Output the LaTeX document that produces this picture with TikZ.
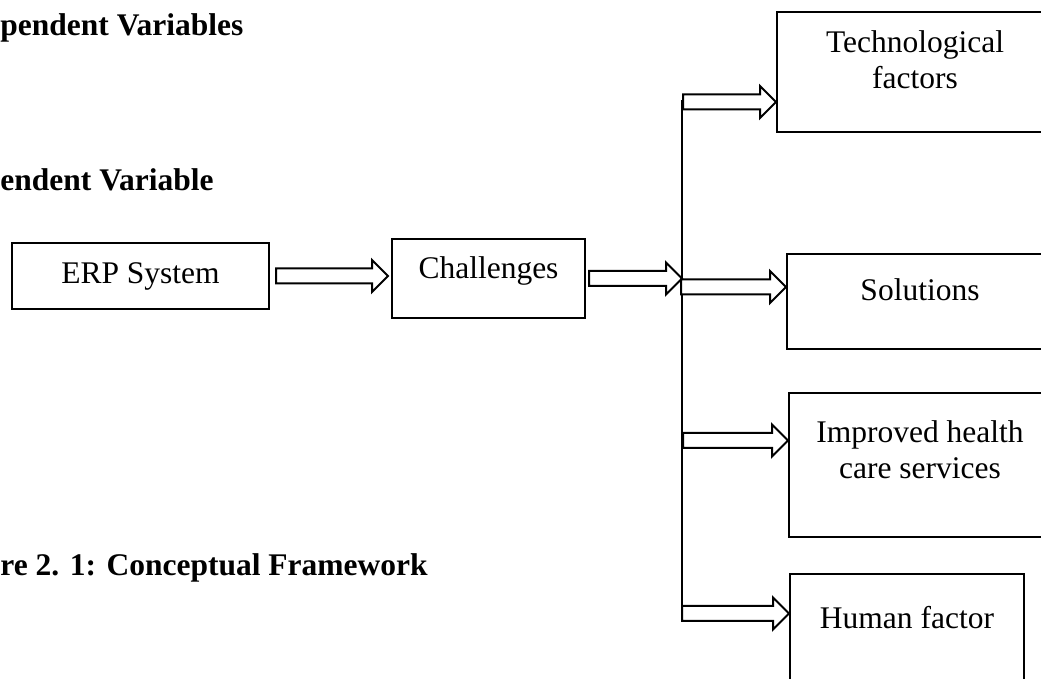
\documentclass[tikz,border=0pt]{standalone}
\usepackage{fontspec}
\setmainfont{Liberation Serif}
\usetikzlibrary{positioning, calc}
\tikzset{
    x=0.5pt, y=-0.5pt, % One unit is one pixel of the page, downwards
    box/.style={draw, thick, line width=1pt, anchor=north west, inner sep=0pt}, % Framed variable boxes
    boxtext/.style={inner sep=0pt, align=center, font=\fontsize{15.75}{18}\selectfont}, % Text inside boxes
    heading/.style={inner sep=0pt, anchor=base west, font=\fontsize{15.75}{18}\selectfont\bfseries}, % Bold headings
    blockline/.style={draw, line width=1pt, fill=white, line join=miter}, % Outline of hollow arrows
    busline/.style={draw, line width=0.6pt}, % Thin vertical connector
}
% hollow block arrow from #1 to #2, kept at the height of #1
\newcommand{\hollowarrow}[2]{%
    \path[blockline] let \p1=(#1), \p2=(#2) in
        (\x1,\y1+3.75pt) -- (\x2-8pt,\y1+3.75pt) -- (\x2-8pt,\y1+8pt)
        -- (\x2,\y1) -- (\x2-8pt,\y1-8pt) -- (\x2-8pt,\y1-3.75pt)
        -- (\x1,\y1-3.75pt) -- cycle;}

\begin{document}
\begin{tikzpicture}
    \clip (0,0) rectangle (1041,679);

    \node[heading] (indep) at (0,36) {pendent Variables};
    \node[heading] (dep) at (0,191) {endent Variable};
    \node[heading] (caption) at (0,576) {re 2. 1: Conceptual Framework};

    \node[box, minimum width=128.5pt, minimum height=33pt] (erp) at (11,242) {};
    \node[box, minimum width=96.5pt, minimum height=39.5pt] (chal) at (391,238) {};
    \node[box, minimum width=138pt, minimum height=60pt] (tech) at (776,11) {};
    \node[box, minimum width=133pt, minimum height=47.5pt] (sol) at (786,253) {};
    \node[box, minimum width=131pt, minimum height=72pt] (imp) at (788,392) {};
    \node[box, minimum width=117pt, minimum height=65pt] (hum) at (789,573) {};

    \node[boxtext] (erp-t) at (erp.center) {ERP System};
    \node[boxtext, below=9.25pt of chal.north] (chal-t) {Challenges};
    \node[boxtext, below=9.75pt of tech.north] (tech-t) {Technological\\factors};
    \node[boxtext, below=12.75pt of sol.north] (sol-t) {Solutions};
    \node[boxtext, below=14.25pt of imp.north] (imp-t) {Improved health\\care services};
    \node[boxtext, below=16.25pt of hum.north] (hum-t) {Human factor};

    \coordinate (bus top) at (682,100);
    \coordinate (bus bot) at (682,621);
    \coordinate (tap1) at (683,102);
    \coordinate (tap2) at (681,287);
    \coordinate (tap3) at (683,440.5);
    \coordinate (tap4) at (682,613.5);
    \path[busline] (bus top) -- (bus bot);

    \hollowarrow{$(erp.east)+(6,0)$}{$(chal.west)+(-3,0)$}
    \hollowarrow{$(chal.east)+(3,0)$}{bus top |- chal.east}
    \hollowarrow{tap1}{tech.west}
    \hollowarrow{tap2}{sol.west}
    \hollowarrow{tap3}{imp.west}
    \hollowarrow{tap4}{hum.west}
\end{tikzpicture}
\end{document}
